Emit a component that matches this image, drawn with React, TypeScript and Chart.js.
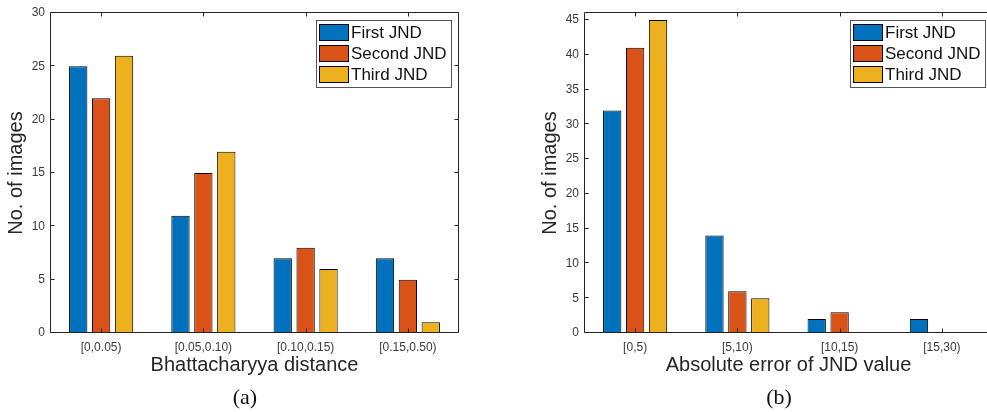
import React, { useEffect, useRef } from "react";
import { Chart, registerables } from "chart.js";

Chart.register(...registerables);

// ---------- data ----------
const SERIES_LABELS = ["First JND", "Second JND", "Third JND"];
const SERIES_COLORS = ["#0072BD", "#D95319", "#EDB120"];

const CATEGORIES_A = ["[0,0.05)", "[0.05,0.10)", "[0.10,0.15)", "[0.15,0.50)"];
const FIRST_A = [25, 11, 7, 7];
const SECOND_A = [22, 15, 8, 5];
const THIRD_A = [26, 17, 6, 1];
const Y_TICKS_A = [0, 5, 10, 15, 20, 25, 30];
const Y_MAX_A = 30;
const X_TITLE_A = "Bhattacharyya distance";
const CAPTION_A = "(a)";

const CATEGORIES_B = ["[0,5)", "[5,10)", "[10,15)", "[15,30)"];
const FIRST_B = [32, 14, 2, 2];
const SECOND_B = [41, 6, 3, 0];
const THIRD_B = [45, 5, 0, 0];
const Y_TICKS_B = [0, 5, 10, 15, 20, 25, 30, 35, 40, 45];
const Y_MAX_B = 46;
const X_TITLE_B = "Absolute error of JND value";
const CAPTION_B = "(b)";

const Y_TITLE = "No. of images";

// ---------- style ----------
const FONT = '"Liberation Sans", Arial, Helvetica, sans-serif';
const AXIS_COLOR = "#262626";
const TICK_TEXT = "#3a3a3a";
const CANVAS_W = 470;
const CANVAS_H = 385;

const matlabPlugin = {
  id: "matlabAxes",
  afterDatasetsDraw(chart: any) {
    const { ctx, chartArea: a, scales } = chart;
    const xs = scales.x;
    const ys = scales.y;
    const L = Math.floor(a.left) + 0.5;
    const R = Math.floor(a.right) - 0.5;
    const T = Math.floor(a.top) - 0.5;
    const B = Math.floor(a.bottom) - 0.5;
    const tl = 4;
    ctx.save();
    ctx.strokeStyle = AXIS_COLOR;
    ctx.lineWidth = 1;
    ctx.beginPath();
    ctx.rect(L, T, R - L, B - T);
    ys.ticks.forEach((t: any) => {
      const py = Math.round(ys.getPixelForValue(t.value)) - 0.5;
      ctx.moveTo(L, py);
      ctx.lineTo(L + tl, py);
      ctx.moveTo(R, py);
      ctx.lineTo(R - tl, py);
    });
    xs.ticks.forEach((_t: any, i: number) => {
      const px = Math.round(xs.getPixelForValue(i)) + 0.5;
      ctx.moveTo(px, B);
      ctx.lineTo(px, B - tl);
      ctx.moveTo(px, T);
      ctx.lineTo(px, T + tl);
    });
    ctx.stroke();
    ctx.restore();
  },
  afterDraw(chart: any) {
    const { ctx, chartArea: a } = chart;
    const w = 135;
    const h = 67;
    const bx = Math.round(a.right - 8 - w) + 0.5;
    const by = Math.round(a.top + 7) + 0.5;
    ctx.save();
    ctx.fillStyle = "#ffffff";
    ctx.fillRect(bx, by, w, h);
    ctx.strokeStyle = "#555555";
    ctx.lineWidth = 1;
    ctx.strokeRect(bx, by, w, h);
    ctx.font = `17px ${FONT}`;
    ctx.textBaseline = "middle";
    ctx.textAlign = "left";
    chart.data.datasets.forEach((ds: any, i: number) => {
      const sy = by + 4 + i * 21;
      ctx.fillStyle = ds.backgroundColor;
      ctx.fillRect(bx + 3, sy, 29, 16);
      ctx.strokeStyle = "#000000";
      ctx.strokeRect(bx + 3, sy, 29, 16);
      ctx.fillStyle = "#111111";
      ctx.fillText(ds.label, bx + 34.5, sy + 8.5);
    });
    ctx.restore();
  },
};

function buildConfig(
  categories: string[],
  series: number[][],
  yTicks: number[],
  yMax: number,
  xTitle: string
): any {
  return {
    type: "bar",
    data: {
      labels: categories,
      datasets: series.map((values, i) => ({
        label: SERIES_LABELS[i],
        data: values,
        backgroundColor: SERIES_COLORS[i],
        borderColor: "#000000",
        borderWidth: 1,
        categoryPercentage: 0.672,
        barPercentage: 0.8,
      })),
    },
    options: {
      responsive: false,
      animation: false,
      layout: { padding: { top: 13, right: 11, left: 0, bottom: 0 } },
      plugins: { legend: { display: false }, tooltip: { enabled: false } },
      scales: {
        x: {
          type: "category",
          grid: { display: false, drawTicks: false },
          border: { display: false },
          ticks: {
            font: { family: FONT, size: 12 },
            color: TICK_TEXT,
            padding: 7,
            maxRotation: 0,
            autoSkip: false,
          },
          title: {
            display: true,
            text: xTitle,
            color: AXIS_COLOR,
            font: { family: FONT, size: 20, lineHeight: 1 },
            padding: { top: 0, bottom: 9.5 },
          },
          afterFit: (s: any) => {
            s.height = 52;
          },
        },
        y: {
          type: "linear",
          min: 0,
          max: yMax,
          grid: { display: false, drawTicks: false },
          border: { display: false },
          ticks: {
            font: { family: FONT, size: 12 },
            color: TICK_TEXT,
            padding: 5,
          },
          afterBuildTicks: (s: any) => {
            s.ticks = yTicks.map((v) => ({ value: v }));
          },
          title: {
            display: true,
            text: Y_TITLE,
            color: AXIS_COLOR,
            font: { family: FONT, size: 20, lineHeight: 1 },
            padding: { top: 6, bottom: 0 },
          },
          afterFit: (s: any) => {
            s.width = 50;
          },
        },
      },
    },
    plugins: [matlabPlugin],
  };
}

function BarPanel(props: {
  left: number;
  categories: string[];
  series: number[][];
  yTicks: number[];
  yMax: number;
  xTitle: string;
}) {
  const ref = useRef<HTMLCanvasElement | null>(null);
  useEffect(() => {
    if (!ref.current) return;
    const chart = new Chart(
      ref.current,
      buildConfig(props.categories, props.series, props.yTicks, props.yMax, props.xTitle)
    );
    return () => chart.destroy();
  }, []);
  return (
    <canvas
      ref={ref}
      width={CANVAS_W}
      height={CANVAS_H}
      style={{ position: "absolute", left: props.left, top: 0, width: CANVAS_W, height: CANVAS_H }}
    />
  );
}

const captionStyle = (left: number): React.CSSProperties => ({
  position: "absolute",
  left,
  top: 386,
  width: 100,
  textAlign: "center",
  fontFamily: '"Liberation Serif", "Times New Roman", serif',
  fontSize: 22,
  lineHeight: "22px",
  color: "#111",
});

export default function App() {
  return (
    <div
      style={{
        position: "fixed",
        left: 0,
        top: 0,
        width: 987,
        height: 412,
        overflow: "hidden",
        background: "#ffffff",
      }}
    >
      <BarPanel
        left={0}
        categories={CATEGORIES_A}
        series={[FIRST_A, SECOND_A, THIRD_A]}
        yTicks={Y_TICKS_A}
        yMax={Y_MAX_A}
        xTitle={X_TITLE_A}
      />
      <BarPanel
        left={534}
        categories={CATEGORIES_B}
        series={[FIRST_B, SECOND_B, THIRD_B]}
        yTicks={Y_TICKS_B}
        yMax={Y_MAX_B}
        xTitle={X_TITLE_B}
      />
      <div style={captionStyle(195)}>{CAPTION_A}</div>
      <div style={captionStyle(729)}>{CAPTION_B}</div>
    </div>
  );
}
